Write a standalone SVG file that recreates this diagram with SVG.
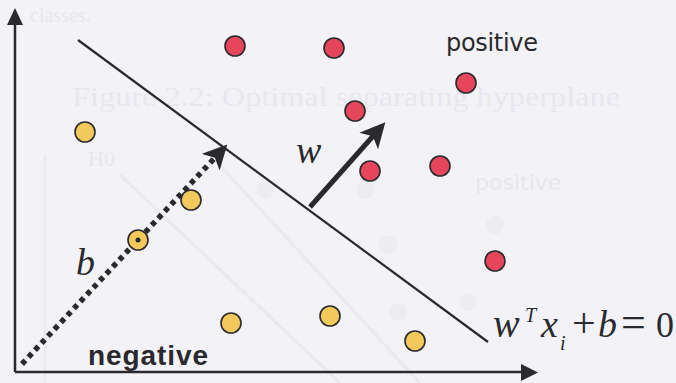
<svg xmlns="http://www.w3.org/2000/svg" width="676" height="383" viewBox="0 0 676 383">
<style>
.ghost{fill:#e7e8ee;font-family:"Liberation Serif",serif}
.gl{stroke:#e8eaef;stroke-width:3;fill:none}
.gc{fill:#ececf1}
.ax{stroke:#2a2a2e;stroke-width:2.5;fill:none}
.red{fill:#e5465c;stroke:#2a2a2e;stroke-width:1.6}
.yel{fill:#f3c95c;stroke:#2a2a2e;stroke-width:1.6}
.math{font-family:"Liberation Serif",serif;font-style:italic;fill:#2a2a2e}
.up{font-family:"Liberation Serif",serif;fill:#2a2a2e}
</style>
<defs>
<marker id="ahw" viewBox="0 0 10 10" refX="8" refY="5" markerWidth="5" markerHeight="5" orient="auto"><path d="M0,0 L10,5 L0,10 L2.5,5 z" fill="#2a2a2e"/></marker>
<marker id="ahd" viewBox="0 0 10 10" refX="8" refY="5" markerWidth="4.4" markerHeight="4.4" orient="auto"><path d="M0,0 L10,5 L0,10 L2.5,5 z" fill="#2a2a2e"/></marker>
</defs>
<rect width="676" height="383" fill="#f3f3f7"/>
<g id="ghost">
<text class="ghost" x="30" y="22" font-size="20">classes.</text>
<text class="ghost" x="72" y="106" font-size="28" textLength="548" lengthAdjust="spacingAndGlyphs">Figure 2.2: Optimal separating hyperplane</text>
<text class="ghost" x="88" y="166" font-size="22">H0</text>
<text class="ghost" x="475" y="190" font-size="22" style="font-family:'DejaVu Sans',sans-serif">positive</text>
<line class="gl" x1="45" y1="155" x2="45" y2="383"/>
<line class="gl" x1="120" y1="175" x2="340" y2="383"/>
<line class="gl" x1="215" y1="160" x2="420" y2="383"/>
<circle class="gc" cx="265" cy="190" r="9"/>
<circle class="gc" cx="365" cy="190" r="9"/>
<circle class="gc" cx="495" cy="225" r="9"/>
<circle class="gc" cx="388" cy="245" r="9"/>
<circle class="gc" cx="468" cy="302" r="9"/>
<circle class="gc" cx="398" cy="312" r="9"/>
</g>
<g id="connectors">
<line class="ax" x1="15" y1="372" x2="15" y2="24"/>
<path d="M7,25 L15,8 L23,25 z" fill="#2a2a2e"/>
<line class="ax" x1="15" y1="372" x2="522" y2="372"/>
<path d="M521,364 L538,372.5 L521,381 z" fill="#2a2a2e"/>
<line x1="78" y1="40" x2="488" y2="342" stroke="#2a2a2e" stroke-width="2.2"/>
<line x1="310" y1="207" x2="382" y2="126" stroke="#2a2a2e" stroke-width="5" marker-end="url(#ahw)"/>
<line x1="22" y1="364" x2="224" y2="148" stroke="#2a2a2e" stroke-width="5.5" stroke-dasharray="5 4.5" marker-end="url(#ahd)"/>
</g>
<g id="positive-points">
<circle class="red" cx="235" cy="46" r="10"/>
<circle class="red" cx="334" cy="48" r="10"/>
<circle class="red" cx="466" cy="83" r="10"/>
<circle class="red" cx="355" cy="111" r="10"/>
<circle class="red" cx="370" cy="171" r="10"/>
<circle class="red" cx="440" cy="166" r="10"/>
<circle class="red" cx="495" cy="261" r="10"/>
</g>
<g id="negative-points">
<circle class="yel" cx="85" cy="132" r="10"/>
<circle class="yel" cx="191" cy="200" r="10"/>
<circle class="yel" cx="138" cy="240" r="10"/>
<circle cx="138" cy="240" r="2.5" fill="#2a2a2e"/>
<circle class="yel" cx="231" cy="323" r="10"/>
<circle class="yel" cx="330" cy="316" r="10"/>
<circle class="yel" cx="415" cy="341" r="10"/>
</g>
<g id="labels">
<text x="446" y="51" font-size="24" textLength="92" style="font-family:'DejaVu Sans',sans-serif;fill:#2a2a2e">positive</text>
<text x="88" y="365" font-size="28" font-weight="bold" textLength="120" style="font-family:'Liberation Sans',sans-serif;fill:#2a2a2e">negative</text>
<text class="math" x="296" y="163" font-size="38">w</text>
<text class="math" x="76" y="275" font-size="38">b</text>
<g id="equation">
<text class="math" x="493" y="337" font-size="40">w</text>
<text class="math" x="525" y="322" font-size="20">T</text>
<text class="math" x="541" y="337" font-size="38">x</text>
<text class="math" x="560" y="350" font-size="20">i</text>
<text class="up" x="572" y="337" font-size="42">+</text>
<text class="math" x="598" y="337" font-size="38">b</text>
<text class="up" x="621" y="337" font-size="44">=</text>
<text class="up" x="656" y="337" font-size="36">0</text>
</g>
</g>
</svg>
